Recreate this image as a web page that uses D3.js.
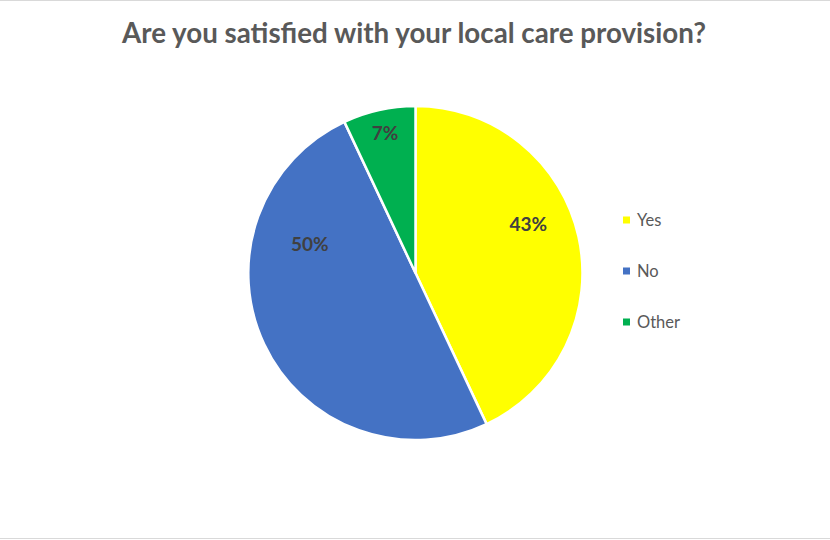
<!DOCTYPE html>
<html><head><meta charset="utf-8">
<script src="https://cdn.jsdelivr.net/npm/d3@7"></script>
<style>html,body{margin:0;padding:0;background:#fff;}svg{display:block;}</style>
</head><body>
<svg id="chart" width="830" height="540"></svg>
<script>
const title = "Are you satisfied with your local care provision?";
const categories = ["Yes", "No", "Other"];
const values = [43, 50, 7];
const colors = ["#FFFF00", "#4472C4", "#00B050"];
// best-fit label placement (layout only): [radius, angle in degrees clockwise from 12 o'clock]
const labelPolar = [[123, 66.6], [109.5, 285.1], [143.3, 347.7]];

const svg = d3.select("#chart");
const W = 830, H = 540;
svg.append("rect").attr("width", W).attr("height", H).attr("fill", "#fff");
svg.append("line").attr("x1",0).attr("x2",W).attr("y1",0.5).attr("y2",0.5).attr("stroke","#d9d9d9");
svg.append("line").attr("x1",0).attr("x2",W).attr("y1",538.5).attr("y2",538.5).attr("stroke","#d9d9d9");

const font = "Lato, 'Open Sans', sans-serif";
const t = svg.append("text").attr("x", 414).attr("y", 43).attr("text-anchor","middle")
  .attr("font-family", font).attr("font-weight","bold").attr("font-size", 24)
  .attr("fill","#595959").text(title);
const tw = t.node().getComputedTextLength();
t.attr("font-size", 24 * 584 / tw);

const cx = 415.5, cy = 273, R = 167;
const pie = d3.pie().value(d => d).sort(null);
const arcs = pie(values);
const arc = d3.arc().innerRadius(0).outerRadius(R);
const g = svg.append("g").attr("transform", `translate(${cx},${cy})`);
g.selectAll("path").data(arcs).join("path")
  .attr("d", arc).attr("fill", (d,i) => colors[i])
  .attr("stroke","#fff").attr("stroke-width",2.5).attr("stroke-linejoin","round");

g.selectAll("text.lbl").data(arcs).join("text").attr("class","lbl")
  .attr("transform", (d,i) => {
    const [r, deg] = labelPolar[i];
    const a = deg * Math.PI / 180;
    return `translate(${r*Math.sin(a)},${-r*Math.cos(a)})`;
  })
  .attr("text-anchor","middle").attr("dy","0.36em")
  .attr("font-family", font).attr("font-weight","bold").attr("font-size",19)
  .attr("fill","#404040").text(d => d3.format(".0%")(d.data / d3.sum(values)));

const lg = svg.append("g");
const ly = d3.scalePoint().domain(categories).range([220, 322]);
categories.forEach((c,i) => {
  lg.append("rect").attr("x", 623).attr("y", ly(c) - 3.5).attr("width",7).attr("height",7).attr("fill", colors[i]);
  lg.append("text").attr("x", 637).attr("y", ly(c)).attr("dy","0.35em")
    .attr("font-family", font).attr("font-size",16.5).attr("fill","#595959").text(c);
});
</script>
</body></html>
